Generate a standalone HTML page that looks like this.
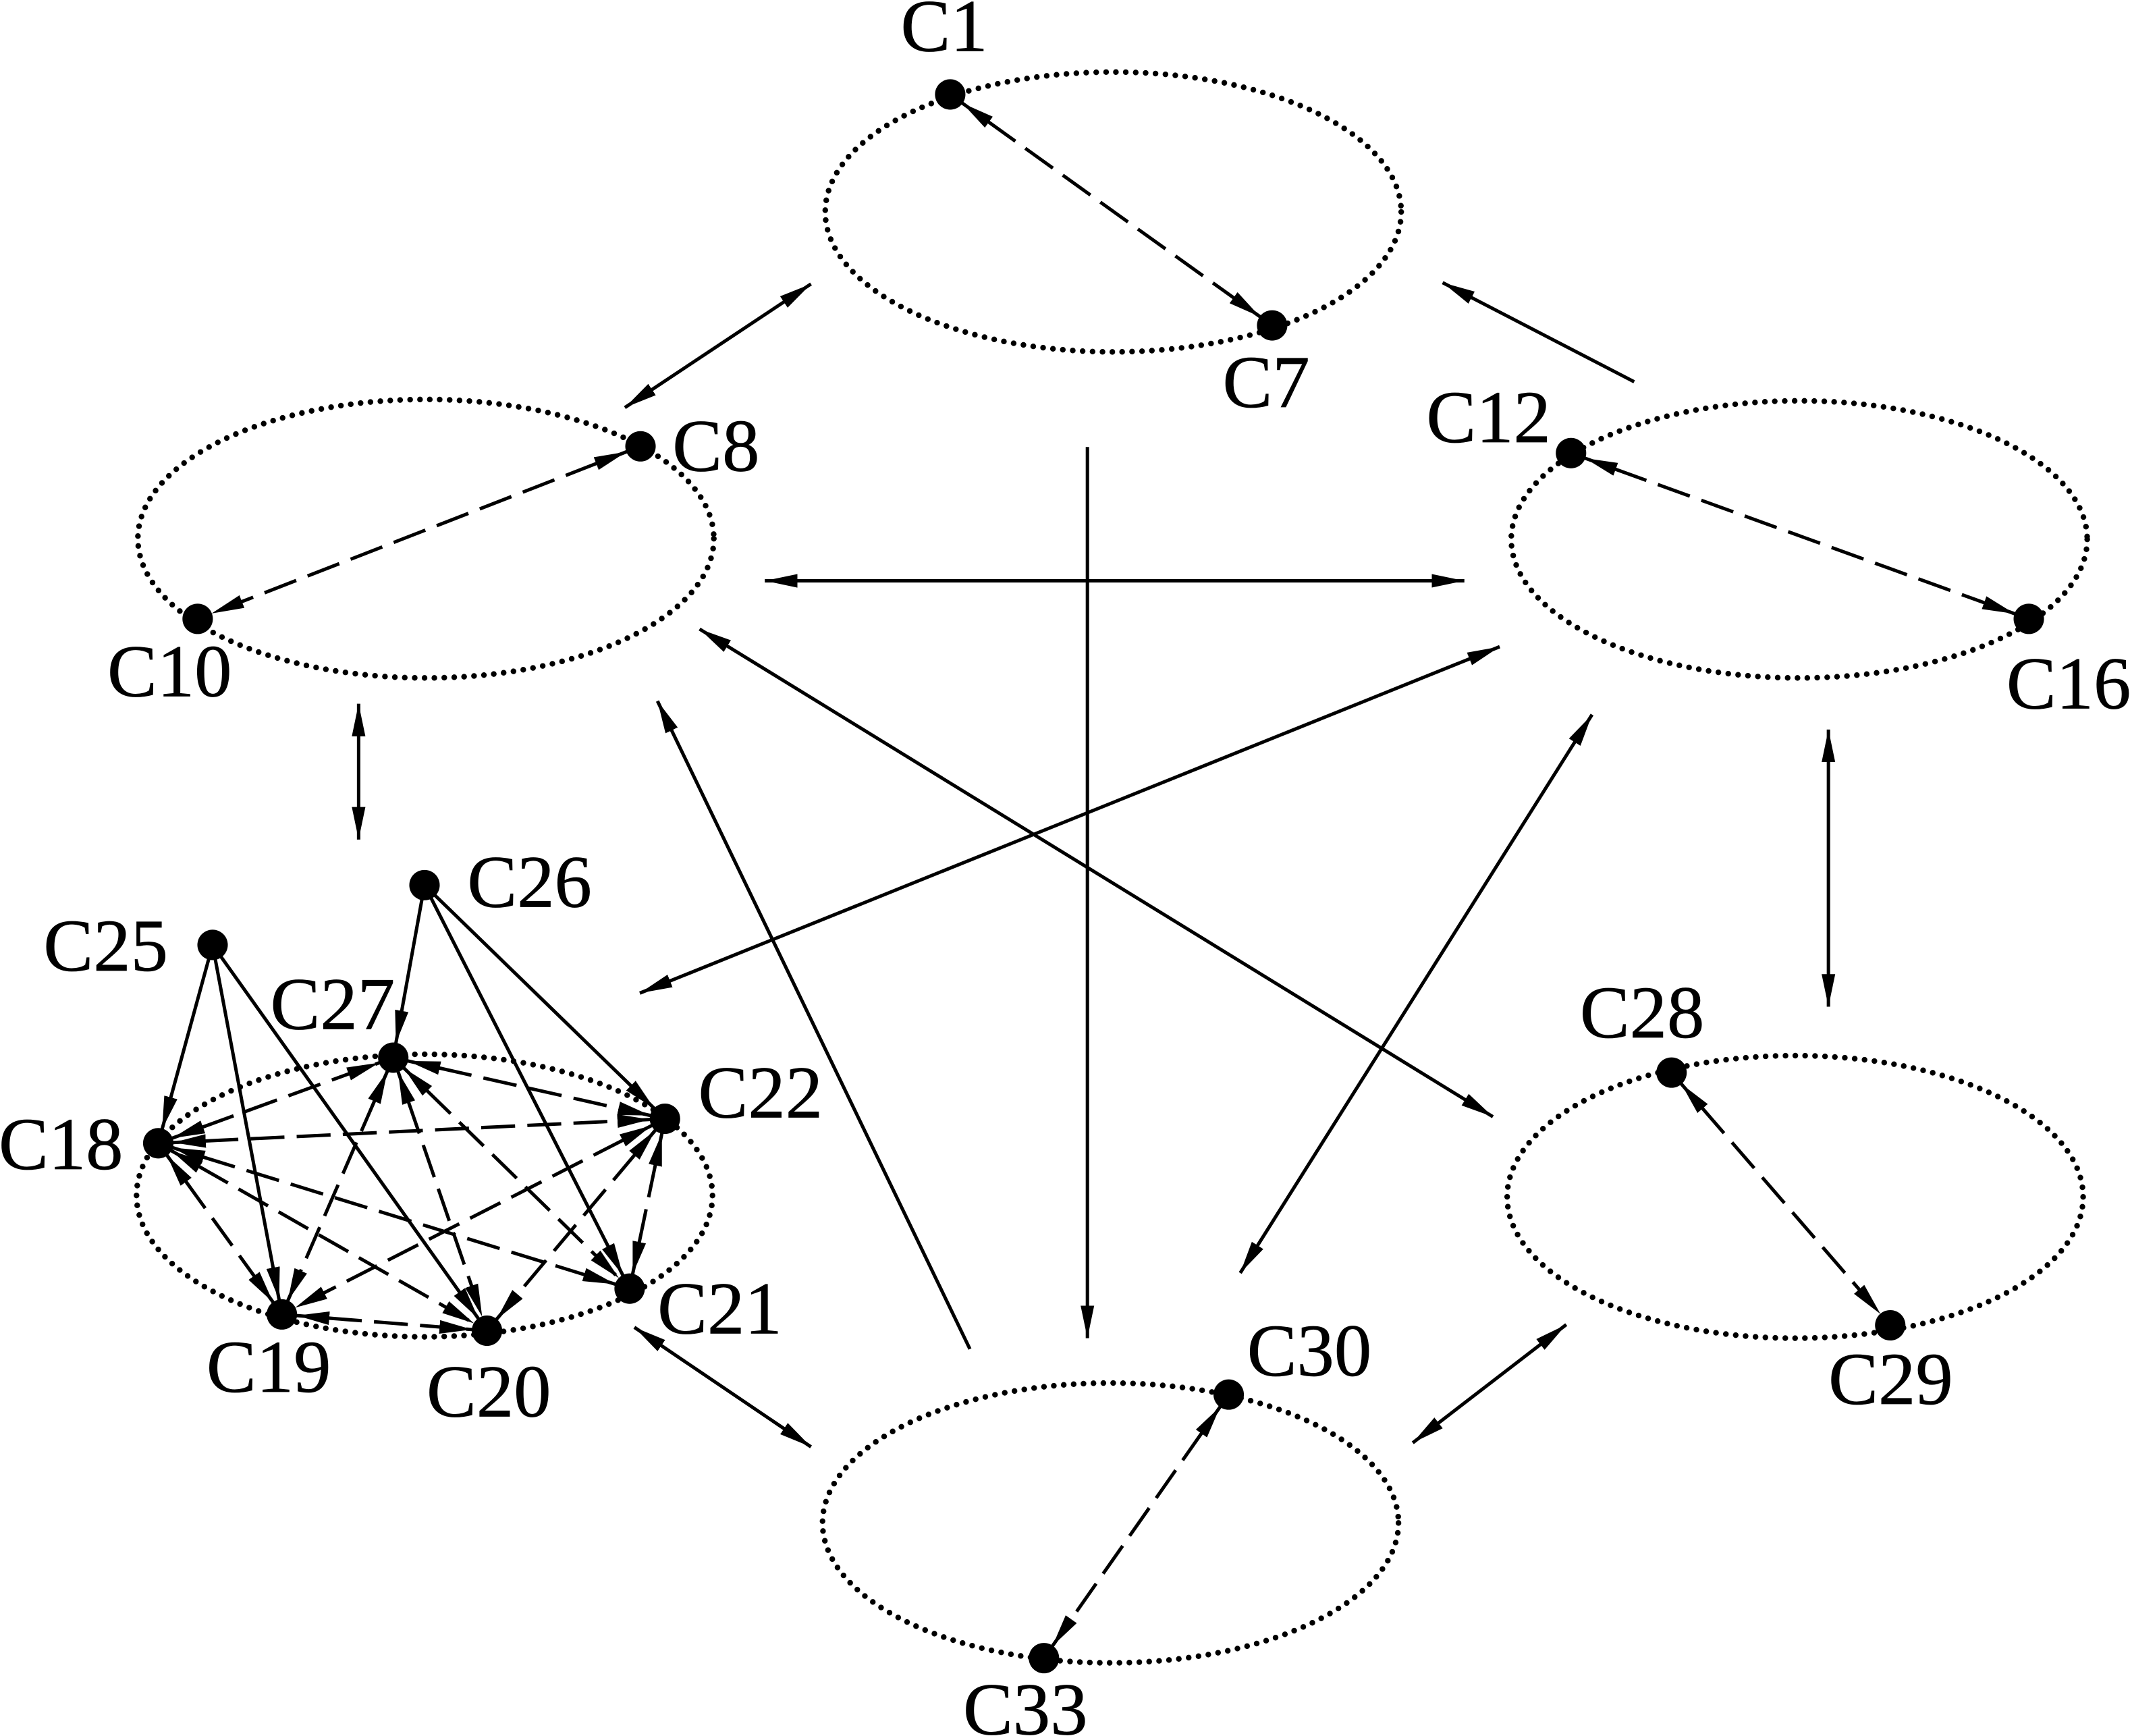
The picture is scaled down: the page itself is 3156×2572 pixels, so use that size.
<!DOCTYPE html>
<html>
<head>
<meta charset="utf-8">
<title>Diagram</title>
<style>
html,body{margin:0;padding:0;background:#fff;width:3156px;height:2572px;overflow:hidden}
svg{display:block}
text{font-family:"Liberation Serif",serif;font-size:55px;fill:#000;stroke:#000;stroke-width:.35}
.e{fill:none;stroke:#000;stroke-width:4.2;stroke-linecap:round;stroke-dasharray:0 7.3}
.s{stroke:#000;stroke-width:2.5;fill:none}
.d{stroke:#000;stroke-width:2.5;fill:none;stroke-dasharray:25 9}
.fb{marker-start:url(#f);marker-end:url(#f)}
.fe{marker-end:url(#f)}
.nb{marker-start:url(#n);marker-end:url(#n)}
.ne{marker-end:url(#n)}
</style>
</head>
<body>
<svg xmlns="http://www.w3.org/2000/svg" width="3156" height="2572" viewBox="0 0 1568 1277.8">
<defs>
<marker id="f" viewBox="0 -7 26 14" refX="24" refY="0" markerWidth="26" markerHeight="14" markerUnits="userSpaceOnUse" orient="auto-start-reverse"><path d="M0 -5L24 0L0 5z"/></marker>
<marker id="n" viewBox="0 -7 36 14" refX="35" refY="0" markerWidth="36" markerHeight="14" markerUnits="userSpaceOnUse" orient="auto-start-reverse"><path d="M0 -5L24 0L0 5z"/></marker>
</defs>
<rect width="1568" height="1278" fill="#fff"/>

<ellipse class="e" cx="819.5" cy="156" rx="212" ry="103"/>
<ellipse class="e" cx="313.5" cy="396.5" rx="212" ry="102.5"/>
<ellipse class="e" cx="1324.5" cy="397" rx="212" ry="102"/>
<ellipse class="e" cx="1321.5" cy="881" rx="212" ry="104"/>
<ellipse class="e" cx="817.5" cy="1121" rx="212" ry="103"/>
<ellipse class="e" cx="312.5" cy="880" rx="212" ry="104"/>

<line class="s fb" x1="597" y1="209" x2="460" y2="300"/>
<line class="s fe" x1="1203" y1="281" x2="1062" y2="208"/>
<line class="s fe" x1="800.5" y1="329" x2="800.5" y2="985"/>
<line class="s fb" x1="563" y1="427.5" x2="1078" y2="427.5"/>
<line class="s fb" x1="1104" y1="476" x2="471" y2="731"/>
<line class="s fb" x1="515" y1="463" x2="1099" y2="822"/>
<line class="s fb" x1="1172" y1="526" x2="913" y2="937"/>
<line class="s fe" x1="714" y1="993" x2="484" y2="516"/>
<line class="s fb" x1="264" y1="518" x2="264" y2="618"/>
<line class="s fb" x1="1346" y1="537" x2="1346" y2="741"/>
<line class="s fb" x1="467" y1="977" x2="597" y2="1065"/>
<line class="s fb" x1="1040" y1="1062" x2="1153" y2="975"/>

<g transform="translate(.5 .5)">
<line class="d nb" x1="699" y1="69" x2="936" y2="239"/>
<line class="d nb" x1="471" y1="328" x2="145" y2="455"/>
<line class="d nb" x1="1156" y1="333" x2="1493" y2="455"/>
<line class="d nb" x1="1230" y1="789" x2="1391" y2="975"/>
<line class="d nb" x1="904" y1="1026" x2="768" y2="1220"/>

<line class="s ne" x1="156" y1="695" x2="116" y2="841"/>
<line class="s ne" x1="156" y1="695" x2="207" y2="967"/>
<line class="s ne" x1="156" y1="695" x2="358" y2="979"/>
<line class="s ne" x1="312" y1="651" x2="289" y2="778"/>
<line class="s ne" x1="312" y1="651" x2="463" y2="948"/>
<line class="s ne" x1="312" y1="651" x2="489" y2="823"/>

<line class="d nb" x1="116" y1="841" x2="289" y2="778"/>
<line class="d nb" x1="116" y1="841" x2="489" y2="823"/>
<line class="d nb" x1="116" y1="841" x2="463" y2="948"/>
<line class="d nb" x1="116" y1="841" x2="358" y2="979"/>
<line class="d nb" x1="116" y1="841" x2="207" y2="967"/>
<line class="d nb" x1="289" y1="778" x2="489" y2="823"/>
<line class="d nb" x1="289" y1="778" x2="463" y2="948"/>
<line class="d nb" x1="289" y1="778" x2="358" y2="979"/>
<line class="d nb" x1="289" y1="778" x2="207" y2="967"/>
<line class="d nb" x1="489" y1="823" x2="207" y2="967"/>
<line class="d nb" x1="489" y1="823" x2="358" y2="979"/>
<line class="d nb" x1="489" y1="823" x2="463" y2="948"/>
<line class="d nb" x1="207" y1="967" x2="358" y2="979"/>

<g fill="#000">
<circle cx="699" cy="69" r="11.2"/>
<circle cx="936" cy="239" r="11.2"/>
<circle cx="471" cy="328" r="11.2"/>
<circle cx="145" cy="455" r="11.2"/>
<circle cx="1156" cy="333" r="11.2"/>
<circle cx="1493" cy="455" r="11.2"/>
<circle cx="312" cy="651" r="11.2"/>
<circle cx="156" cy="695" r="11.2"/>
<circle cx="289" cy="778" r="11.2"/>
<circle cx="489" cy="823" r="11.2"/>
<circle cx="116" cy="841" r="11.2"/>
<circle cx="463" cy="948" r="11.2"/>
<circle cx="207" cy="967" r="11.2"/>
<circle cx="358" cy="979" r="11.2"/>
<circle cx="1230" cy="789" r="11.2"/>
<circle cx="1391" cy="975" r="11.2"/>
<circle cx="904" cy="1026" r="11.2"/>
<circle cx="768" cy="1220" r="11.2"/>
</g>
</g>

<g transform="translate(-1 -.5)">
<text x="664" y="38">C1</text>
<text x="901" y="300">C7</text>
<text x="1051" y="326">C12</text>
<text x="496" y="347">C8</text>
<text x="80" y="513">C10</text>
<text x="1478" y="522">C16</text>
<text x="345" y="668">C26</text>
<text x="33" y="715">C25</text>
<text x="200" y="758">C27</text>
<text x="515" y="823">C22</text>
<text x="0" y="861">C18</text>
<text x="1164" y="764">C28</text>
<text x="485" y="982">C21</text>
<text x="153" y="1025">C19</text>
<text x="315" y="1043">C20</text>
<text x="919" y="1013">C30</text>
<text x="1347" y="1034">C29</text>
<text x="710" y="1277">C33</text>
</g>
</svg>
</body>
</html>
